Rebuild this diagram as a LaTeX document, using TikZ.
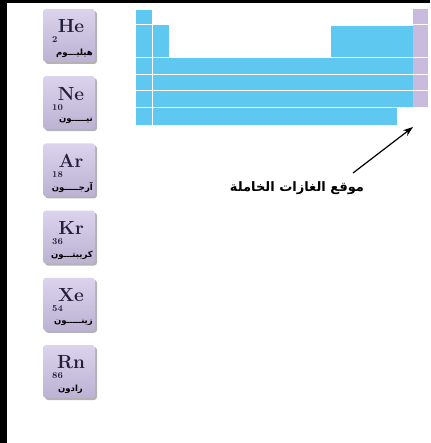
\documentclass[tikz,border=0pt]{standalone}
\usepackage{fontspec}
\newfontfamily\arabicfont[Script=Arabic]{DejaVu Sans}
\TeXXeTstate=1
\usetikzlibrary{%
  arrows.meta,
  calc
}
\usetikzlibrary{shadows}

\definecolor{tablecyan}{RGB}{94,200,240}
\definecolor{gascol}{RGB}{200,187,221}
\definecolor{tilelav}{RGB}{204,193,229}
\definecolor{tileink}{RGB}{35,30,60}

\tikzset{
  tile/.style={rounded corners=3pt, top color=tilelav!70!white, bottom color=tilelav!92!black,
    minimum width=52pt, minimum height=53pt, inner sep=0pt,
    drop shadow={shadow xshift=2pt, shadow yshift=-2pt, fill=black!50, opacity=0.6}},
  symb/.style={font=\fontsize{19}{19}\selectfont\bfseries, text=tileink, inner sep=0pt},
  anum/.style={font=\fontsize{9}{9}\selectfont\bfseries, text=tileink, inner sep=0pt, anchor=west},
  aname/.style={font=\arabicfont\fontsize{8.5}{8.5}\selectfont\bfseries, text=black, inner sep=0pt, anchor=east}
}

\begin{document}
\begin{tikzpicture}[x=1pt, y=-1pt]
    \useasboundingbox (0,0) rectangle (430,443);
    \fill[black] (0,0) rectangle (430,3);
    \fill[black] (0,0) rectangle (7,443);

    % table blocks
    \fill[tablecyan] (136,10) rectangle (152.5,25);
    \fill[tablecyan] (136,25) rectangle (169,58);
    \fill[tablecyan] (331,26) rectangle (413,58);
    \fill[tablecyan] (136,58) rectangle (413,108);
    \fill[tablecyan] (136,108) rectangle (397,125);
    \fill[gascol] (413,9) rectangle (428,108);

    \foreach \y in {25,58,74.5,91,108} {
        \draw[white, line width=1pt] (136,\y) -- (428,\y);
    }
    \draw[white, line width=1pt] (152.5,10) -- (152.5,125);

    % noble gas tiles
    \foreach \sym/\num/\nm/\nmx [count=\i from 0] in
        {He/2/هيليـــوم/93, Ne/10/نيـــــون/93, Ar/18/آرجـــــون/93,
         Kr/36/كريبتـــون/93, Xe/54/زينـــــون/93, Rn/86/رادون/83} {
        \pgfmathsetmacro\ty{9+67.2*\i}
        \node[tile] (tile\i) at (69,\ty+26.5) {};
        \node[symb] (sym\i) at (71,\ty+17.5) {\sym};
        \node[anum] (num\i) at (52,\ty+31) {\num};
        \node[aname] (name\i) at (\nmx,\ty+44.5) {\beginR\nm\endR};
    }

    \node[font=\arabicfont\fontsize{13}{13}\selectfont\bfseries, inner sep=0pt] (gaslabel) at (297,188)
        {\beginR موقع الغازات الخاملة\endR};
    \coordinate (tail) at (353,173);
    \coordinate (tip) at (413,127);
    \draw[-{Stealth[length=10pt, width=7pt]}, line width=1.2pt] (tail) -- (tip);
\end{tikzpicture}
\end{document}
